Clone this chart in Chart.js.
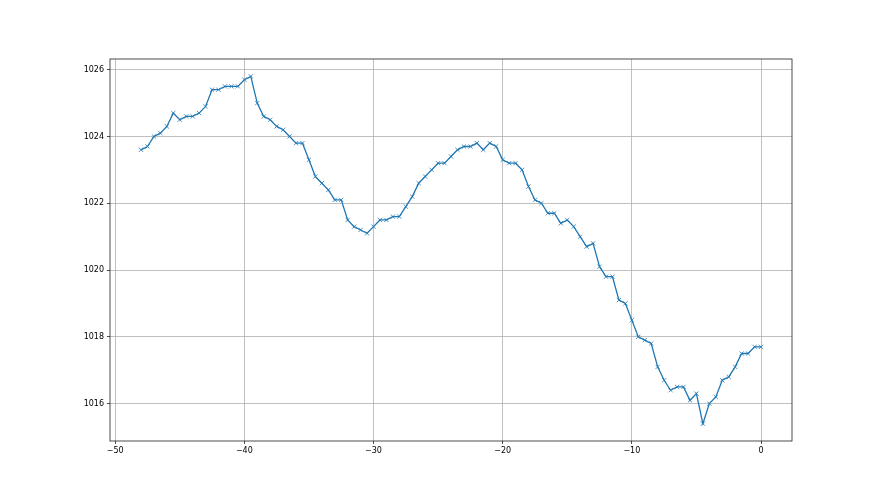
<!DOCTYPE html>
<html lang="en">
<head>
    <meta charset="UTF-8">
    <title>Pressure</title>
    <script src="https://cdn.jsdelivr.net/npm/chart.js"></script>
    <style>
        body {
            margin: 0;
            background: #fff;
        }
        canvas {
            display: block;
        }
    </style>
</head>
<body>
    <canvas id="pressureChart" width="880" height="495"></canvas>

    <script>
        // hours relative to now
        const hours = [
            -48, -47.5, -47, -46.5, -46, -45.5, -45, -44.5, -44, -43.5,
            -43, -42.5, -42, -41.5, -41, -40.5, -40, -39.5, -39, -38.5,
            -38, -37.5, -37, -36.5, -36, -35.5, -35, -34.5, -34, -33.5,
            -33, -32.5, -32, -31.5, -31, -30.5, -30, -29.5, -29, -28.5,
            -28, -27.5, -27, -26.5, -26, -25.5, -25, -24.5, -24, -23.5,
            -23, -22.5, -22, -21.5, -21, -20.5, -20, -19.5, -19, -18.5,
            -18, -17.5, -17, -16.5, -16, -15.5, -15, -14.5, -14, -13.5,
            -13, -12.5, -12, -11.5, -11, -10.5, -10, -9.5, -9, -8.5,
            -8, -7.5, -7, -6.5, -6, -5.5, -5, -4.5, -4, -3.5,
            -3, -2.5, -2, -1.5, -1, -0.5, 0
        ];

        const pressure = [
            1023.6, 1023.7, 1024.0, 1024.1, 1024.3, 1024.7, 1024.5, 1024.6, 1024.6, 1024.7,
            1024.9, 1025.4, 1025.4, 1025.5, 1025.5, 1025.5, 1025.7, 1025.8, 1025.0, 1024.6,
            1024.5, 1024.3, 1024.2, 1024.0, 1023.8, 1023.8, 1023.3, 1022.8, 1022.6, 1022.4,
            1022.1, 1022.1, 1021.5, 1021.3, 1021.2, 1021.1, 1021.3, 1021.5, 1021.5, 1021.6,
            1021.6, 1021.9, 1022.2, 1022.6, 1022.8, 1023.0, 1023.2, 1023.2, 1023.4, 1023.6,
            1023.7, 1023.7, 1023.8, 1023.6, 1023.8, 1023.7, 1023.3, 1023.2, 1023.2, 1023.0,
            1022.5, 1022.1, 1022.0, 1021.7, 1021.7, 1021.4, 1021.5, 1021.3, 1021.0, 1020.7,
            1020.8, 1020.1, 1019.8, 1019.8, 1019.1, 1019.0, 1018.5, 1018.0, 1017.9, 1017.8,
            1017.1, 1016.7, 1016.4, 1016.5, 1016.5, 1016.1, 1016.3, 1015.4, 1016.0, 1016.2,
            1016.7, 1016.8, 1017.1, 1017.5, 1017.5, 1017.7, 1017.7
        ];

        const xTicks = [-50, -40, -30, -20, -10, 0];
        const yTicks = [1016, 1018, 1020, 1022, 1024, 1026];

        // full box around the plot, like matplotlib spines
        const frame = {
            id: 'frame',
            afterDraw(chart) {
                const { ctx, chartArea: a } = chart;
                ctx.save();
                ctx.strokeStyle = '#222';
                ctx.lineWidth = 0.8;
                ctx.strokeRect(a.left, a.top, a.right - a.left, a.bottom - a.top);
                ctx.restore();
            }
        };

        const ctx = document.getElementById('pressureChart').getContext('2d');

        new Chart(ctx, {
            type: 'line',
            data: {
                datasets: [{
                    data: hours.map((h, i) => ({ x: h, y: pressure[i] })),
                    borderColor: '#1f77b4',
                    borderWidth: 1.3,
                    pointStyle: 'crossRot',
                    pointRadius: 3,
                    pointBorderColor: '#1f77b4',
                    pointBorderWidth: 0.8,
                    tension: 0,
                    fill: false
                }]
            },
            options: {
                responsive: false,
                animation: false,
                layout: {
                    padding: { left: 0, top: 59, right: 88, bottom: 0 }
                },
                plugins: {
                    legend: { display: false },
                    tooltip: { enabled: false }
                },
                scales: {
                    x: {
                        type: 'linear',
                        min: -50.4,
                        max: 2.4,
                        afterBuildTicks: s => { s.ticks = xTicks.map(v => ({ value: v })); },
                        afterFit: s => { s.height = 54; },
                        grid: {
                            color: '#b0b0b0',
                            lineWidth: 0.8,
                            tickColor: '#222',
                            tickLength: 3
                        },
                        border: { display: false },
                        ticks: {
                            color: '#000',
                            font: { family: 'DejaVu Sans', size: 8 },
                            padding: 2,
                            maxRotation: 0,
                            callback: v => v < 0 ? '\u2212' + Math.abs(v) : String(v)
                        }
                    },
                    y: {
                        min: 1014.88,
                        max: 1026.32,
                        afterBuildTicks: s => { s.ticks = yTicks.map(v => ({ value: v })); },
                        afterFit: s => { s.width = 110; },
                        grid: {
                            color: '#b0b0b0',
                            lineWidth: 0.8,
                            tickColor: '#222',
                            tickLength: 3
                        },
                        border: { display: false },
                        ticks: {
                            color: '#000',
                            font: { family: 'DejaVu Sans', size: 8 },
                            padding: 3,
                            callback: v => String(v)
                        }
                    }
                }
            },
            plugins: [frame]
        });
    </script>
</body>
</html>
